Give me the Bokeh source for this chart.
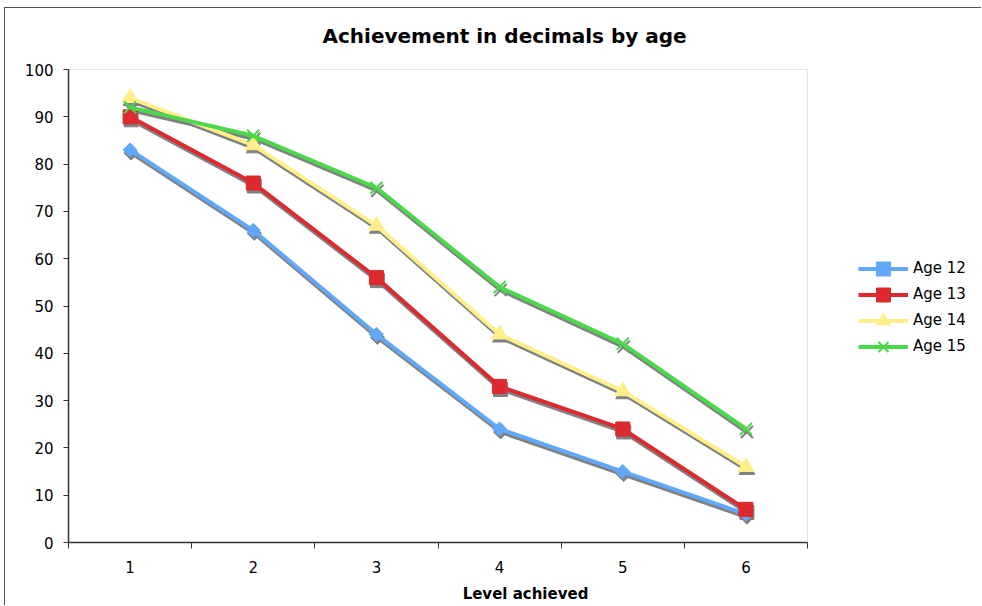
import math
from bokeh.plotting import figure
from bokeh.models import (FixedTicker, Legend, LegendItem, ColumnDataSource, Range1d,
                          BoxAnnotation, Label)
from bokeh.transform import dodge
from bokeh.embed import file_html
from bokeh.resources import INLINE

# Share of pupils reaching each level, by age
levels = [1, 2, 3, 4, 5, 6]
age12 = [83, 66, 44, 24, 15, 6]
age13 = [90, 76, 56, 33, 24, 7]
age14 = [94, 84, 67, 44, 32, 16]
age15 = [92, 86, 75, 54, 42, 24]
series_names = ["Age 12", "Age 13", "Age 14", "Age 15"]
y_ticks = list(range(0, 101, 10))
level_bounds = [0.5, 1.5, 2.5, 3.5, 4.5, 5.5, 6.5]
chart_title = "Achievement in decimals by age"

series = [age12, age13, age14, age15]
colors = ["#62A8F8", "#DC2A2E", "#FFEF8A", "#4CD84C"]
markers = ["square", "square", "triangle", "x"]
marker_sizes = [10, 14, 16, 17]
marker_angles = [math.pi / 4, 0, 0, 0]

FONT = "DejaVu Sans"

# Layout in page pixels: plot box spans x 68..807, y 69..542. The frame is
# widened to the right and top edges of the chart so the title, legend and
# box outline are all drawn inside it.
PLOT_L, PLOT_R, PAGE_R = 68, 807, 982
PLOT_T, PLOT_B, CHART_T = 69, 542, 8
TITLE_X, TITLE_Y = 322, 35
x_lo, x_hi = level_bounds[0], level_bounds[-1]
y_lo, y_hi = y_ticks[0], y_ticks[-1]
px_x = (x_hi - x_lo) / (PLOT_R - PLOT_L)   # data units per pixel
px_y = (y_hi - y_lo) / (PLOT_B - PLOT_T)
x_end = x_lo + (PAGE_R - PLOT_L) * px_x
y_end = y_hi + (PLOT_T - CHART_T) * px_y

p = figure(width=977, height=598, output_backend="svg", toolbar_location=None,
           title=None,
           x_range=Range1d(x_lo, x_end), y_range=Range1d(y_lo, y_end),
           min_border_left=63, min_border_right=0,
           min_border_top=0, min_border_bottom=64,
           background_fill_color="white", border_fill_color="white",
           outline_line_color=None,
           margin=(7, 0, 0, 4),
           styles={"border-top": "1px solid #555555",
                   "border-left": "1px solid #555555"})

p.grid.visible = False

# title
p.add_layout(Label(x=x_lo + (TITLE_X - PLOT_L) * px_x,
                   y=y_hi + (PLOT_T - TITLE_Y) * px_y,
                   text=chart_title, text_align="left", text_baseline="alphabetic",
                   text_font=FONT, text_font_size="20px", text_font_style="bold",
                   text_color="black"))

# plot area border
p.add_layout(BoxAnnotation(left=x_lo, right=x_hi, bottom=y_lo, top=y_hi,
                           fill_alpha=0, line_color="#9a9a9a", line_width=1,
                           level="underlay"))

# x axis: labels at level centres, tick marks on the boundaries
xa = p.xaxis[0]
xa.bounds = (x_lo, x_hi)
xa.ticker = FixedTicker(ticks=levels, minor_ticks=level_bounds)
xa.major_tick_line_color = None
xa.major_tick_out = 6
xa.major_tick_in = 0
xa.minor_tick_out = 6
xa.minor_tick_in = 0
xa.minor_tick_line_color = "#333333"
xa.axis_line_color = "#333333"
xa.axis_line_width = 1.5
xa.major_label_standoff = 12
xa.major_label_text_font = FONT
xa.major_label_text_font_size = "15px"
xa.major_label_text_color = "black"
xa.axis_label = "Level achieved"
xa.axis_label_text_font = FONT
xa.axis_label_text_font_size = "15px"
xa.axis_label_text_font_style = "bold"
xa.axis_label_text_color = "black"
xa.axis_label_standoff = 9

ya = p.yaxis[0]
ya.bounds = (y_lo, y_hi)
ya.ticker = FixedTicker(ticks=y_ticks, minor_ticks=[])
ya.major_tick_out = 5
ya.major_tick_in = 0
ya.major_tick_line_color = "#333333"
ya.axis_line_color = "#333333"
ya.axis_line_width = 1.5
ya.major_label_standoff = 10
ya.major_label_text_font = FONT
ya.major_label_text_font_size = "15px"
ya.major_label_text_color = "black"

# drop shadows (3px down, 1px right)
shadow_dy = -3 * px_y
shadow_dx = 1 * px_x


def draw_markers(x, y, src, mk, ms, ang, col):
    if mk == "x":
        return p.scatter(x=x, y=y, source=src, marker=mk, size=ms,
                         line_color=col, line_width=2)
    return p.scatter(x=x, y=y, source=src, marker=mk, size=ms, angle=ang,
                     fill_color=col, line_color=col)


for vals, mk, ms, ang in zip(series, markers, marker_sizes, marker_angles):
    src = ColumnDataSource(dict(x=levels, y=vals))
    sx = dodge("x", shadow_dx, range=p.x_range)
    sy = dodge("y", shadow_dy, range=p.y_range)
    p.line(x=sx, y=sy, source=src, line_color="#808080", line_width=4, line_join="round")
    draw_markers(sx, sy, src, mk, ms, ang, "#808080")

# One single-entry legend per series: legend markers are drawn at 0.4 x the
# glyph box, so a tall box keeps them full size while rows stay 26px apart.
LEG_X = 858 - PLOT_L
LEG_ROW0, LEG_PITCH, LEG_BOX = 268, 26, 35
for i, (name, vals, col, mk, ms, ang) in enumerate(
        zip(series_names, series, colors, markers, marker_sizes, marker_angles)):
    src = ColumnDataSource(dict(x=levels, y=vals))
    lr = p.line(x="x", y="y", source=src, line_color=col, line_width=4, line_join="round")
    mr = draw_markers("x", "y", src, mk, ms, ang, col)
    row_bottom = LEG_ROW0 + i * LEG_PITCH + LEG_BOX / 2
    leg = Legend(items=[LegendItem(label=name, renderers=[lr, mr])],
                 location=(LEG_X, PLOT_B - row_bottom),
                 glyph_width=50, glyph_height=LEG_BOX, spacing=0,
                 label_standoff=5, padding=0, margin=0,
                 border_line_color=None, background_fill_alpha=0,
                 label_text_font=FONT, label_text_font_size="15px",
                 label_text_color="black")
    p.add_layout(leg, "center")

open("out.html", "w").write(file_html(p, INLINE))
